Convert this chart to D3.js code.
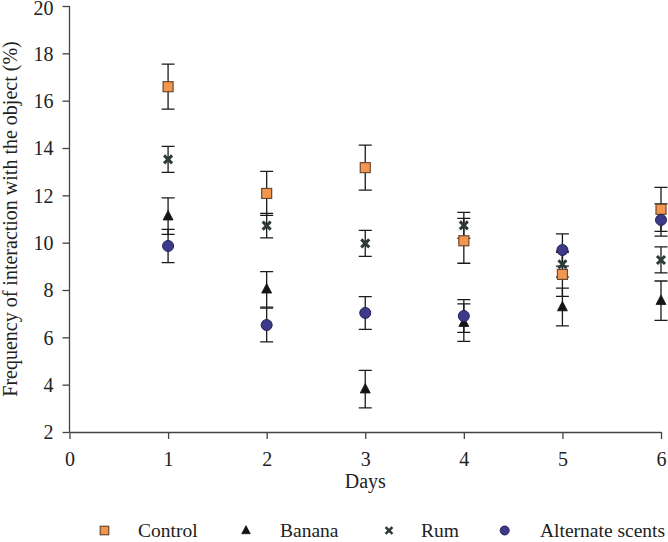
<!DOCTYPE html>
<html>
<head>
<meta charset="utf-8">
<script src="https://cdn.jsdelivr.net/npm/d3@7"></script>
<style>
  html, body { margin: 0; padding: 0; background: #fff; }
  svg { display: block; }
  text { font-family: "Liberation Serif", "Times New Roman", serif; fill: #222; }
</style>
</head>
<body>
<svg id="chart" width="668" height="542"></svg>
<script>
// ---- data ----
const days = [1, 2, 3, 4, 5, 6];
const xTicks = [0, 1, 2, 3, 4, 5, 6];
const yTicks = [2, 4, 6, 8, 10, 12, 14, 16, 18, 20];

const seriesNames = ["Control", "Banana", "Rum", "Alternate scents"];
const controlValues = [16.59, 12.08, 13.17, 10.08, 8.66, 11.41];
const controlErrors = [0.95, 0.93, 0.95, 0.95, 0.93, 0.93];
const bananaValues = [11.12, 8.03, 3.81, 6.62, 7.28, 7.55];
const bananaErrors = [0.77, 0.75, 0.79, 0.79, 0.80, 0.83];
const rumValues = [13.52, 10.72, 9.97, 10.73, 9.09, 9.27];
const rumErrors = [0.55, 0.52, 0.55, 0.55, 0.55, 0.55];
const altValues = [9.86, 6.52, 7.03, 6.90, 9.69, 10.96];
const altErrors = [0.70, 0.71, 0.69, 0.69, 0.68, 0.68];

const xTitle = "Days";
const yTitle = "Frequency of interaction with the object (%)";

// ---- chart ----
const svg = d3.select("#chart");
const x = d3.scaleLinear().domain([0, 6]).range([69.5, 661]);
const y = d3.scaleLinear().domain([2, 20]).range([432, 6]);

const axisColor = "#444";
const fontSize = 20;

// axes
const gx = svg.append("g").attr("transform", `translate(0,${y(2)})`)
  .call(d3.axisBottom(x).tickValues(xTicks).tickFormat(d3.format("d")).tickSizeOuter(0).tickSizeInner(7).tickPadding(13));
const gy = svg.append("g").attr("transform", `translate(${x(0)},0)`)
  .call(d3.axisLeft(y).tickValues(yTicks).tickFormat(d3.format("d")).tickSizeOuter(0).tickSizeInner(7).tickPadding(9));
[gx, gy].forEach(g => {
  g.select(".domain").attr("stroke", axisColor).attr("stroke-width", 1.3);
  g.selectAll(".tick line").attr("stroke", axisColor).attr("stroke-width", 1.3);
  g.selectAll(".tick text").attr("font-size", fontSize).attr("fill", "#222")
    .attr("font-family", '"Liberation Serif", "Times New Roman", serif');
});
gy.select(".domain").attr("d", `M0,${y(20)}V${y(2)}`);
gy.selectAll(".tick text").attr("dy", d => d === 20 ? "0.42em" : "0.34em");

// axis titles
svg.append("text").attr("x", x(3)).attr("y", 488)
  .attr("text-anchor", "middle").attr("font-size", fontSize).text(xTitle);
svg.append("text").attr("transform", `translate(17,${(y(2) + y(20)) / 2}) rotate(-90)`)
  .attr("text-anchor", "middle").attr("font-size", fontSize).text(yTitle);

// series definitions
const series = [
  { name: seriesNames[0], values: controlValues, errors: controlErrors, shape: "square" },
  { name: seriesNames[1], values: bananaValues, errors: bananaErrors, shape: "triangle" },
  { name: seriesNames[2], values: rumValues, errors: rumErrors, shape: "cross" },
  { name: seriesNames[3], values: altValues, errors: altErrors, shape: "circle" }
];

function drawMarker(g, shape, s) {
  if (shape === "square") {
    g.append("rect").attr("x", -s / 2).attr("y", -s / 2).attr("width", s).attr("height", s)
      .attr("fill", "#F5964F").attr("stroke", "#6b4a2e").attr("stroke-width", 1.2);
  } else if (shape === "triangle") {
    const h = s * 0.95;
    g.append("path").attr("d", `M0,${-h * 0.6}L${s / 2},${h * 0.4}L${-s / 2},${h * 0.4}Z`)
      .attr("fill", "#141414").attr("stroke", "#141414").attr("stroke-width", 0.8);
  } else if (shape === "cross") {
    const r = s / 2 * 0.8;
    g.append("path").attr("d", `M${-r},${-r}L${r},${r}M${-r},${r}L${r},${-r}`)
      .attr("stroke", "#2d3b36").attr("stroke-width", s * 0.3).attr("fill", "none");
  } else if (shape === "circle") {
    g.append("circle").attr("r", s / 2)
      .attr("fill", "#3d3a8c").attr("stroke", "#23224f").attr("stroke-width", 1);
  }
}

const capHalf = 6.5;
const plot = svg.append("g");
series.forEach(sr => {
  const g = plot.append("g");
  days.forEach((d, i) => {
    const v = sr.values[i], e = sr.errors[i];
    const cx = x(d);
    g.append("path")
      .attr("d", `M${cx},${y(v + e)}V${y(v - e)}M${cx - capHalf},${y(v + e)}H${cx + capHalf}M${cx - capHalf},${y(v - e)}H${cx + capHalf}`)
      .attr("stroke", "#1a1a1a").attr("stroke-width", 1.3).attr("fill", "none");
  });
});
series.forEach(sr => {
  const g = plot.append("g");
  days.forEach((d, i) => {
    const m = g.append("g").attr("transform", `translate(${x(d)},${y(sr.values[i])})`);
    drawMarker(m, sr.shape, sr.shape === "circle" ? 11 : 10);
  });
});

// legend
const legendMarkerX = [104.5, 246, 389, 504.7];
const legendTextX = [138, 280, 421, 540];
const legendY = 537;
series.forEach((sr, i) => {
  const m = svg.append("g").attr("transform", `translate(${legendMarkerX[i]},${legendY - 6.5})`);
  drawMarker(m, sr.shape, sr.shape === "circle" ? 9 : 8.5);
  svg.append("text").attr("x", legendTextX[i]).attr("y", legendY)
    .attr("font-size", 19.5).text(sr.name);
});
</script>
</body>
</html>
